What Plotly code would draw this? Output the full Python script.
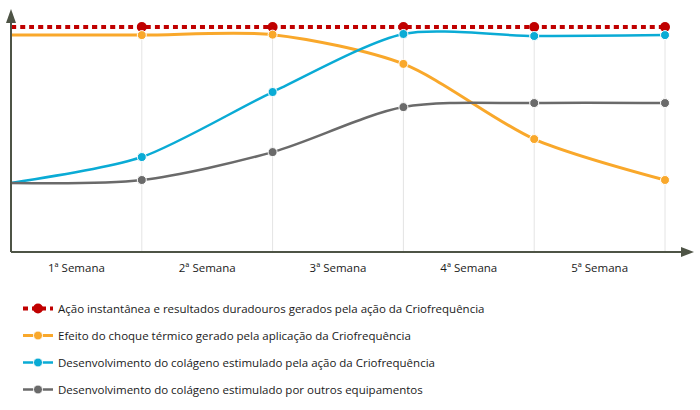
import plotly.graph_objects as go

# ---- data ----
x_points = [0, 1, 2, 3, 4, 5]
week_labels = ["1ª Semana", "2ª Semana", "3ª Semana", "4ª Semana", "5ª Semana"]
week_label_pos = [0.5, 1.5, 2.5, 3.5, 4.5]

names = [
    "Ação instantânea e resultados duradouros gerados pela ação da Criofrequência",
    "Efeito do choque térmico gerado pela aplicação da Criofrequência",
    "Desenvolvimento do colágeno estimulado pela ação da Criofrequência",
    "Desenvolvimento do colágeno estimulado por outros equipamentos",
]
acao = [100, 100, 100, 100, 100, 100]
choque = [96.4, 96.4, 96.6, 83.6, 50.2, 32.0]
colageno_crio = [30.7, 42.2, 71.1, 96.9, 96.0, 96.4]
colageno_outros = [30.7, 32.0, 44.4, 64.4, 66.2, 66.2]
marked_points = [1, 2, 3, 4, 5]

RED = "#C00000"
ORANGE = "#F9A82B"
BLUE = "#0AABD5"
GRAY = "#6A6A6A"
AXIS = "#4E5446"
GRID = "#E4E4E4"

W, H = 700, 410
X0_PX = 11
PX_PER_X = 130.8
AXIS_Y_PX = 252
PX_PER_Y = 2.25

fig = go.Figure()

def add(yvals, name, color, width, dash=None, msize=9, mline=1, smoothing=0.8):
    fig.add_trace(go.Scatter(
        x=x_points, y=yvals, name=name, mode="lines+markers",
        line=dict(color=color, width=width, shape="spline", smoothing=smoothing, dash=dash),
        marker=dict(size=msize, color=color, line=dict(color="white", width=mline)),
        selectedpoints=marked_points,
        selected=dict(marker=dict(opacity=1)),
        unselected=dict(marker=dict(opacity=0)),
        legendgroup=name, cliponaxis=False,
    ))

add(acao, names[0], RED, 4, dash="5px,4px", msize=10, mline=0)
add(choque, names[1], ORANGE, 3, smoothing=0.8)
add(colageno_crio, names[2], BLUE, 2.5, smoothing=0.75)
add(colageno_outros, names[3], GRAY, 2.5, smoothing=0.85)

shapes = []
# vertical gridlines
for xv in x_points[1:]:
    shapes.append(dict(type="line", xref="x", yref="y", x0=xv, x1=xv, y0=0, y1=100,
                       line=dict(color=GRID, width=1), layer="below"))

def px2paper_x(px):
    return px / W

def px2paper_y(py):
    return (AXIS_Y_PX - py) / AXIS_Y_PX

# axes lines with arrowheads (paper coordinates)
shapes.append(dict(type="line", xref="paper", yref="paper",
                   x0=px2paper_x(X0_PX), x1=px2paper_x(X0_PX),
                   y0=px2paper_y(AXIS_Y_PX), y1=px2paper_y(18),
                   line=dict(color=AXIS, width=2)))
shapes.append(dict(type="line", xref="paper", yref="paper",
                   x0=px2paper_x(X0_PX), x1=px2paper_x(686),
                   y0=0, y1=0, line=dict(color=AXIS, width=2)))
# y arrow head
shapes.append(dict(type="path", xref="paper", yref="paper",
                   path="M %f,%f L %f,%f L %f,%f Z" % (
                       px2paper_x(X0_PX), px2paper_y(9),
                       px2paper_x(X0_PX - 5), px2paper_y(23),
                       px2paper_x(X0_PX + 5), px2paper_y(23)),
                   fillcolor=AXIS, line=dict(width=0)))
# x arrow head
shapes.append(dict(type="path", xref="paper", yref="paper",
                   path="M %f,%f L %f,%f L %f,%f Z" % (
                       px2paper_x(694), px2paper_y(AXIS_Y_PX),
                       px2paper_x(681), px2paper_y(AXIS_Y_PX - 5),
                       px2paper_x(681), px2paper_y(AXIS_Y_PX + 5)),
                   fillcolor=AXIS, line=dict(width=0)))

fig.update_layout(
    width=W, height=H,
    margin=dict(l=0, r=0, t=0, b=H - AXIS_Y_PX),
    paper_bgcolor="white", plot_bgcolor="white",
    font=dict(family="Open Sans, Noto Sans, sans-serif", size=11.5, color="#1a1a1a"),
    xaxis=dict(
        range=[-X0_PX / PX_PER_X, (W - X0_PX) / PX_PER_X],
        tickvals=week_label_pos, ticktext=week_labels,
        showgrid=False, zeroline=False, showline=False,
        ticks="outside", ticklen=5, tickcolor="rgba(0,0,0,0)",
        tickfont=dict(size=11.5, color="#1a1a1a"), fixedrange=True,
    ),
    yaxis=dict(
        range=[0, AXIS_Y_PX / PX_PER_Y],
        showgrid=False, zeroline=False, showline=False, showticklabels=False,
        fixedrange=True,
    ),
    shapes=shapes,
    showlegend=True,
    legend=dict(
        x=px2paper_x(18), xanchor="left",
        y=px2paper_y(294), yanchor="top",
        tracegroupgap=8, font=dict(size=11.5, color="#1a1a1a"),
        bgcolor="rgba(0,0,0,0)", itemwidth=30,
    ),
)

fig.write_html("out.html")
